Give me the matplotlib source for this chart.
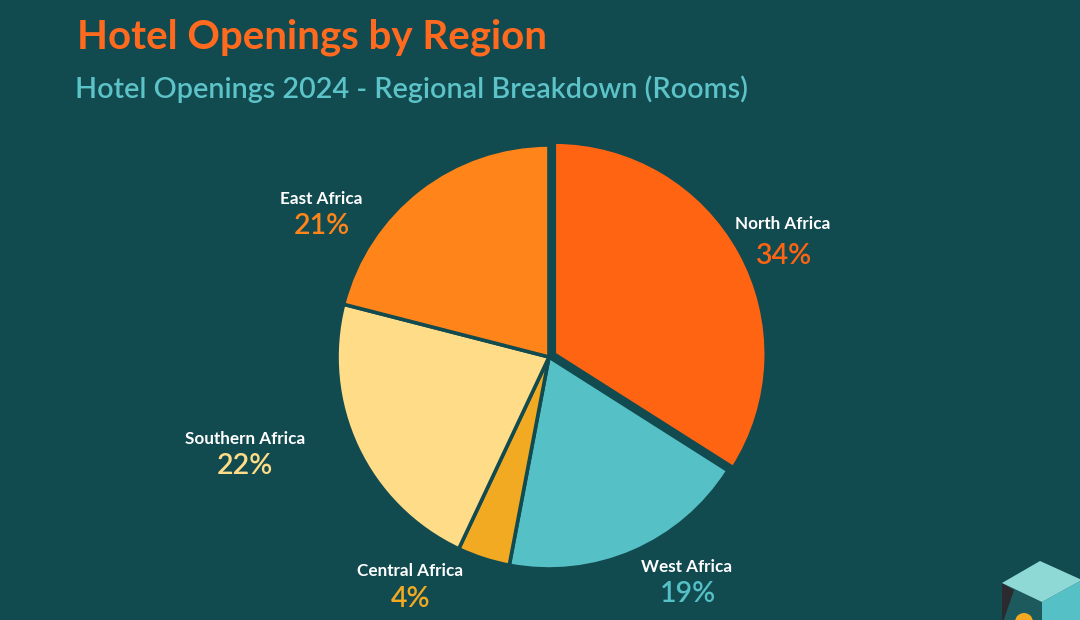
import matplotlib
matplotlib.use("Agg")
import matplotlib.pyplot as plt
from matplotlib.patches import Polygon, Circle

# ---- data ----
regions = ["North Africa", "West Africa", "Central Africa", "Southern Africa", "East Africa"]
shares = [34, 19, 4, 22, 21]
colors = ["#FF6412", "#55C0C6", "#F2AA22", "#FFDC87", "#FF851A"]

title = "Hotel Openings by Region"
subtitle = "Hotel Openings 2024 - Regional Breakdown (Rooms)"

# ---- layout (pixel coords, y up) ----
BG = "#114A4F"
W, H = 1080, 620
center = (549, H - 357)
radius = 212
explode = [6, 0, 0, 0, 0]
# label centre positions (name, pct) in pixel coords from top
label_pos = {
    "North Africa": ((783, 224), (784, 256)),
    "West Africa": ((687, 567), (688, 594)),
    "Central Africa": ((410, 571), (411, 599)),
    "Southern Africa": ((245, 439), (245, 466)),
    "East Africa": ((321, 199), (322, 226)),
}

plt.rcParams['font.family'] = ['Lato', 'DejaVu Sans']

fig = plt.figure(figsize=(W / 100, H / 100), dpi=100, facecolor=BG)
ax = fig.add_axes([0, 0, 1, 1])
ax.set_facecolor(BG)

ax.pie(shares, colors=colors, startangle=90, counterclock=False,
       center=center, radius=radius, explode=explode, frame=True,
       wedgeprops=dict(edgecolor=BG, linewidth=2.6))
ax.set_xlim(0, W)
ax.set_ylim(0, H)
ax.set_aspect('equal')
ax.axis('off')

for name, val, col in zip(regions, shares, colors):
    (nx, ny), (px, py) = label_pos[name]
    ax.text(nx, H - ny, name, color="white", fontsize=12.3, fontweight='bold',
            ha='center', va='center')
    ax.text(px, H - py, f"{val}%", color=col, fontsize=20.5, fontweight='semibold',
            ha='center', va='center')

fig.text(77 / W, 1 - 37 / H, title, color="#FF6A1F", fontsize=29,
         fontweight='bold', ha='left', va='center')
fig.text(75 / W, 1 - 89 / H, subtitle, color="#5CC3C8", fontsize=20.7,
         fontweight='semibold', ha='left', va='center')

# decorative cube bottom-right
ax.add_patch(Polygon([(1002, H - 583), (1042, H - 602), (1042, H - 625), (1002, H - 625)],
                     closed=True, facecolor="#1C5A5E", edgecolor='none'))
ax.add_patch(Polygon([(1002, H - 583), (1014, H - 590), (1002, H - 625)],
                     closed=True, facecolor="#2B2A2E", edgecolor='none'))
ax.add_patch(Circle((1024, H - 622), 9, facecolor="#F2AA22", edgecolor='none'))
ax.add_patch(Polygon([(1042, H - 602), (1082, H - 580), (1082, H - 625), (1042, H - 625)],
                     closed=True, facecolor="#55C0C6", edgecolor='none'))
ax.add_patch(Polygon([(1002, H - 583), (1040, H - 561), (1082, H - 580), (1042, H - 602)],
                     closed=True, facecolor="#8ED8D6", edgecolor='none'))

fig.savefig("out.png", dpi=100, facecolor=BG)
